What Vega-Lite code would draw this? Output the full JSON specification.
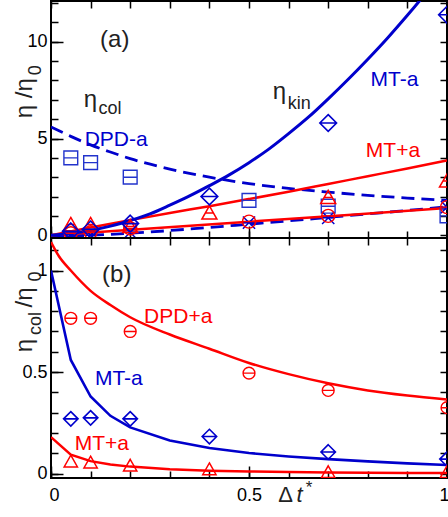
{
 "$schema": "https://vega.github.io/schema/vega-lite/v6.json",
 "padding": {"left": 11, "top": 0, "right": 0, "bottom": 0},
 "spacing": 0,
 "bounds": "flush",
 "config": {
  "font": "Liberation Sans",
  "view": {"stroke": "black", "strokeWidth": 2},
  "axis": {"grid": false, "domain": false, "tickColor": "black", "tickWidth": 1.5, "labelFontSize": 18, "labelColor": "black", "labelFont": "Liberation Sans", "labelOverlap": false, "labelFlush": false, "minExtent": 0}
 },
 "datasets": {
  "lines": [
   {"s":"a_mta_kin","x":0,"y":0},{"s":"a_mta_kin","x":0.05,"y":0.09},{"s":"a_mta_kin","x":0.1,"y":0.25},{"s":"a_mta_kin","x":0.15,"y":0.47},{"s":"a_mta_kin","x":0.2,"y":0.76},{"s":"a_mta_kin","x":0.25,"y":1.1},{"s":"a_mta_kin","x":0.3,"y":1.55},{"s":"a_mta_kin","x":0.35,"y":2.03},{"s":"a_mta_kin","x":0.4,"y":2.56},{"s":"a_mta_kin","x":0.45,"y":3.12},{"s":"a_mta_kin","x":0.5,"y":3.75},{"s":"a_mta_kin","x":0.55,"y":4.45},{"s":"a_mta_kin","x":0.6,"y":5.25},{"s":"a_mta_kin","x":0.65,"y":6.1},{"s":"a_mta_kin","x":0.7,"y":7.05},{"s":"a_mta_kin","x":0.75,"y":8.05},{"s":"a_mta_kin","x":0.8,"y":9.1},{"s":"a_mta_kin","x":0.85,"y":10.2},{"s":"a_mta_kin","x":0.9,"y":11.37},{"s":"a_mta_kin","x":0.95,"y":12.6},{"s":"a_mta_kin","x":1.0,"y":13.9},
   {"s":"a_mtpa_kin","x":0,"y":0},{"s":"a_mtpa_kin","x":0.1,"y":0.4},{"s":"a_mtpa_kin","x":0.2,"y":0.78},{"s":"a_mtpa_kin","x":0.3,"y":1.15},{"s":"a_mtpa_kin","x":0.4,"y":1.5},{"s":"a_mtpa_kin","x":0.5,"y":1.87},{"s":"a_mtpa_kin","x":0.6,"y":2.25},{"s":"a_mtpa_kin","x":0.7,"y":2.65},{"s":"a_mtpa_kin","x":0.8,"y":3.05},{"s":"a_mtpa_kin","x":0.9,"y":3.45},{"s":"a_mtpa_kin","x":1.0,"y":3.87},
   {"s":"a_dpdpa_kin","x":0,"y":0},{"s":"a_dpdpa_kin","x":0.25,"y":0.35},{"s":"a_dpdpa_kin","x":0.5,"y":0.7},{"s":"a_dpdpa_kin","x":0.75,"y":1.05},{"s":"a_dpdpa_kin","x":1.0,"y":1.4},
   {"s":"a_dpda_kin","x":0,"y":-0.08},{"s":"a_dpda_kin","x":0.1,"y":0.0},{"s":"a_dpda_kin","x":0.2,"y":0.1},{"s":"a_dpda_kin","x":0.3,"y":0.24},{"s":"a_dpda_kin","x":0.4,"y":0.4},{"s":"a_dpda_kin","x":0.5,"y":0.57},{"s":"a_dpda_kin","x":0.6,"y":0.74},{"s":"a_dpda_kin","x":0.7,"y":0.92},{"s":"a_dpda_kin","x":0.8,"y":1.1},{"s":"a_dpda_kin","x":0.9,"y":1.28},{"s":"a_dpda_kin","x":1.0,"y":1.47},
   {"s":"a_dpda_col","x":0,"y":5.6},{"s":"a_dpda_col","x":0.05,"y":5.11},{"s":"a_dpda_col","x":0.1,"y":4.67},{"s":"a_dpda_col","x":0.15,"y":4.3},{"s":"a_dpda_col","x":0.2,"y":3.96},{"s":"a_dpda_col","x":0.3,"y":3.42},{"s":"a_dpda_col","x":0.4,"y":3.0},{"s":"a_dpda_col","x":0.5,"y":2.67},{"s":"a_dpda_col","x":0.6,"y":2.42},{"s":"a_dpda_col","x":0.7,"y":2.23},{"s":"a_dpda_col","x":0.8,"y":2.06},{"s":"a_dpda_col","x":0.9,"y":1.92},{"s":"a_dpda_col","x":1.0,"y":1.8},
   {"s":"b_dpdpa","x":0,"y":1.14},{"s":"b_dpdpa","x":0.02,"y":1.07},{"s":"b_dpdpa","x":0.05,"y":1.0},{"s":"b_dpdpa","x":0.1,"y":0.9},{"s":"b_dpdpa","x":0.15,"y":0.83},{"s":"b_dpdpa","x":0.2,"y":0.77},{"s":"b_dpdpa","x":0.3,"y":0.685},{"s":"b_dpdpa","x":0.4,"y":0.615},{"s":"b_dpdpa","x":0.5,"y":0.545},{"s":"b_dpdpa","x":0.6,"y":0.49},{"s":"b_dpdpa","x":0.7,"y":0.445},{"s":"b_dpdpa","x":0.8,"y":0.41},{"s":"b_dpdpa","x":0.9,"y":0.385},{"s":"b_dpdpa","x":1.0,"y":0.365},
   {"s":"b_mta","x":0,"y":1.0},{"s":"b_mta","x":0.05,"y":0.56},{"s":"b_mta","x":0.1,"y":0.38},{"s":"b_mta","x":0.15,"y":0.285},{"s":"b_mta","x":0.2,"y":0.228},{"s":"b_mta","x":0.3,"y":0.163},{"s":"b_mta","x":0.4,"y":0.127},{"s":"b_mta","x":0.5,"y":0.102},{"s":"b_mta","x":0.6,"y":0.085},{"s":"b_mta","x":0.7,"y":0.072},{"s":"b_mta","x":0.8,"y":0.061},{"s":"b_mta","x":0.9,"y":0.051},{"s":"b_mta","x":1.0,"y":0.043},
   {"s":"b_mtpa","x":0,"y":0.18},{"s":"b_mtpa","x":0.05,"y":0.094},{"s":"b_mtpa","x":0.1,"y":0.062},{"s":"b_mtpa","x":0.15,"y":0.045},{"s":"b_mtpa","x":0.2,"y":0.035},{"s":"b_mtpa","x":0.3,"y":0.022},{"s":"b_mtpa","x":0.4,"y":0.015},{"s":"b_mtpa","x":0.5,"y":0.011},{"s":"b_mtpa","x":0.6,"y":0.008},{"s":"b_mtpa","x":0.7,"y":0.006},{"s":"b_mtpa","x":0.8,"y":0.005},{"s":"b_mtpa","x":0.9,"y":0.004},{"s":"b_mtpa","x":1.0,"y":0.003}
  ],
  "pts": [
   {"s":"a_sq","x":0.05,"y":4.0},{"s":"a_sq","x":0.1,"y":3.75},{"s":"a_sq","x":0.2,"y":3.0},{"s":"a_sq","x":0.5,"y":1.8},{"s":"a_sq","x":0.7,"y":1.5},{"s":"a_sq","x":1.0,"y":1.0},
   {"s":"a_dia","x":0.05,"y":0.2},{"s":"a_dia","x":0.1,"y":0.3},{"s":"a_dia","x":0.2,"y":0.6},{"s":"a_dia","x":0.4,"y":2.0},{"s":"a_dia","x":0.7,"y":5.8},{"s":"a_dia","x":1.0,"y":11.4},
   {"s":"a_tri","x":0.05,"y":0.55},{"s":"a_tri","x":0.1,"y":0.55},{"s":"a_tri","x":0.2,"y":0.45},{"s":"a_tri","x":0.4,"y":1.15},{"s":"a_tri","x":0.7,"y":1.95},{"s":"a_tri","x":1.0,"y":2.8},
   {"s":"a_cir","x":0.05,"y":0.1},{"s":"a_cir","x":0.1,"y":0.15},{"s":"a_cir","x":0.2,"y":0.35},{"s":"a_cir","x":0.5,"y":0.7},{"s":"a_cir","x":0.7,"y":1.0},{"s":"a_cir","x":1.0,"y":1.45},
   {"s":"a_x","x":0.05,"y":-0.05},{"s":"a_x","x":0.1,"y":0.0},{"s":"a_x","x":0.2,"y":0.15},{"s":"a_x","x":0.5,"y":0.65},{"s":"a_x","x":0.7,"y":0.9},{"s":"a_x","x":1.0,"y":1.45},
   {"s":"b_cir","x":0.05,"y":0.765},{"s":"b_cir","x":0.1,"y":0.765},{"s":"b_cir","x":0.2,"y":0.7},{"s":"b_cir","x":0.5,"y":0.495},{"s":"b_cir","x":0.7,"y":0.41},{"s":"b_cir","x":1.0,"y":0.325},
   {"s":"b_dia","x":0.05,"y":0.27},{"s":"b_dia","x":0.1,"y":0.275},{"s":"b_dia","x":0.2,"y":0.27},{"s":"b_dia","x":0.4,"y":0.183},{"s":"b_dia","x":0.7,"y":0.107},{"s":"b_dia","x":1.0,"y":0.072},
   {"s":"b_tri","x":0.05,"y":0.06},{"s":"b_tri","x":0.1,"y":0.055},{"s":"b_tri","x":0.2,"y":0.04},{"s":"b_tri","x":0.4,"y":0.022},{"s":"b_tri","x":0.7,"y":0.008},{"s":"b_tri","x":1.0,"y":0.008}
  ],
  "txt": [
   {"p":"a","g":"panel","t":"(a)","x":0.161,"y":10.07},
   {"p":"b","g":"panel","t":"(b)","x":0.166,"y":0.98},
   {"p":"a","g":"eta","t":"η","x":0.083,"y":6.62},
   {"p":"a","g":"sub","t":"col","x":0.12,"y":6.25},
   {"p":"a","g":"eta","t":"η","x":0.56,"y":7.03},
   {"p":"a","g":"sub","t":"kin","x":0.598,"y":6.51},
   {"p":"a","g":"blue","t":"DPD-a","x":0.085,"y":4.61},
   {"p":"a","g":"blue","t":"MT-a","x":0.807,"y":7.7},
   {"p":"a","g":"red","t":"MT+a","x":0.795,"y":4.03},
   {"p":"b","g":"red","t":"DPD+a","x":0.235,"y":0.744},
   {"p":"b","g":"blue","t":"MT-a","x":0.111,"y":0.438},
   {"p":"b","g":"red","t":"MT+a","x":0.06,"y":0.118},
   {"p":"a","g":"ytitle","t":"η /η","x":-0.0487,"y":7.08},
   {"p":"a","g":"ysub","t":"0","x":-0.025,"y":8.53},
   {"p":"b","g":"ytitle","t":"η","x":-0.0487,"y":0.631},
   {"p":"b","g":"ysub","t":"col","x":-0.025,"y":0.739},
   {"p":"b","g":"ytitle","t":"/η","x":-0.0487,"y":0.867},
   {"p":"b","g":"ysub","t":"0","x":-0.025,"y":0.971},
   {"p":"b","g":"xt","t":"Δ","x":0.574,"y":-0.138},
   {"p":"b","g":"xti","t":"t","x":0.62,"y":-0.138},
   {"p":"b","g":"xs","t":"*","x":0.643,"y":-0.095}
  ]
 },
 "vconcat": [
  {
   "width": 396, "height": 237,
   "layer": [
    {"layer": [
     {"data":{"name":"lines"},"transform":[{"filter":"datum.s === 'a_dpda_col'"}],"mark":{"type":"line","color":"#0000cc","strokeWidth":2.8,"strokeDash":[13,7],"clip":true,"interpolate":"monotone"},
      "encoding":{
       "x":{"field":"x","type":"quantitative","title":null,"scale":{"domain":[0,1],"nice":false,"zero":false},
        "axis":{"orient":"bottom","values":[0,0.5,1],"labels":false,"tickSize":-12}},
       "y":{"field":"y","type":"quantitative","title":null,"scale":{"domain":[-0.145,12.11],"nice":false,"zero":false},
        "axis":{"orient":"left","values":[0,5,10],"format":"~g","labelPadding":16,"tickSize":-12}}}},
     {"data":{"name":"lines"},"transform":[{"filter":"datum.s === 'a_dpda_kin'"}],"mark":{"type":"line","color":"#0000cc","strokeWidth":2.8,"strokeDash":[13,7],"clip":true,"interpolate":"monotone"},
      "encoding":{"x":{"field":"x","type":"quantitative","title":null,"scale":{"domain":[0,1],"nice":false,"zero":false}},"y":{"field":"y","type":"quantitative","title":null,"scale":{"domain":[-0.145,12.11],"nice":false,"zero":false}}}},
     {"data":{"name":"lines"},"transform":[{"filter":"datum.s === 'a_dpdpa_kin'"}],"mark":{"type":"line","color":"#ff0000","strokeWidth":2.5,"clip":true},
      "encoding":{"x":{"field":"x","type":"quantitative","title":null,"scale":{"domain":[0,1],"nice":false,"zero":false}},"y":{"field":"y","type":"quantitative","title":null,"scale":{"domain":[-0.145,12.11],"nice":false,"zero":false}}}},
     {"data":{"name":"lines"},"transform":[{"filter":"datum.s === 'a_mtpa_kin'"}],"mark":{"type":"line","color":"#ff0000","strokeWidth":2.5,"clip":true,"interpolate":"monotone"},
      "encoding":{"x":{"field":"x","type":"quantitative","title":null,"scale":{"domain":[0,1],"nice":false,"zero":false}},"y":{"field":"y","type":"quantitative","title":null,"scale":{"domain":[-0.145,12.11],"nice":false,"zero":false}}}},
     {"data":{"name":"lines"},"transform":[{"filter":"datum.s === 'a_mta_kin'"}],"mark":{"type":"line","color":"#0000cc","strokeWidth":3,"clip":true,"interpolate":"monotone"},
      "encoding":{"x":{"field":"x","type":"quantitative","title":null,"scale":{"domain":[0,1],"nice":false,"zero":false}},"y":{"field":"y","type":"quantitative","title":null,"scale":{"domain":[-0.145,12.11],"nice":false,"zero":false}}}},
     {"data":{"name":"pts"},"transform":[{"filter":"datum.s === 'a_sq'"}],"mark":{"type":"point","shape":"M-1,-1H1V1H-1Z M-1,0H1","size":190,"filled":false,"color":"#2233cc","strokeWidth":1.4,"opacity":1,"clip":true},
      "encoding":{"x":{"field":"x","type":"quantitative","title":null,"scale":{"domain":[0,1],"nice":false,"zero":false}},"y":{"field":"y","type":"quantitative","title":null,"scale":{"domain":[-0.145,12.11],"nice":false,"zero":false}}}},
     {"data":{"name":"pts"},"transform":[{"filter":"datum.s === 'a_x'"}],"mark":{"type":"point","shape":"M-1,-1L1,1M-1,1L1,-1M-1,0H1","size":150,"filled":false,"color":"#0000cc","strokeWidth":1.5,"opacity":1,"clip":true},
      "encoding":{"x":{"field":"x","type":"quantitative","title":null,"scale":{"domain":[0,1],"nice":false,"zero":false}},"y":{"field":"y","type":"quantitative","title":null,"scale":{"domain":[-0.145,12.11],"nice":false,"zero":false}}}},
     {"data":{"name":"pts"},"transform":[{"filter":"datum.s === 'a_cir'"}],"mark":{"type":"point","shape":"M1,0A1,1,0,1,1,-1,0A1,1,0,1,1,1,0Z M-1,0H1","size":169,"filled":false,"color":"#ff0000","strokeWidth":1.4,"opacity":1,"clip":true},
      "encoding":{"x":{"field":"x","type":"quantitative","title":null,"scale":{"domain":[0,1],"nice":false,"zero":false}},"y":{"field":"y","type":"quantitative","title":null,"scale":{"domain":[-0.145,12.11],"nice":false,"zero":false}}}},
     {"data":{"name":"pts"},"transform":[{"filter":"datum.s === 'a_tri'"}],"mark":{"type":"point","shape":"M0,-1L1.05,0.85H-1.05Z M-0.55,0H0.55","size":204,"filled":false,"color":"#ff0000","strokeWidth":1.5,"opacity":1,"clip":true},
      "encoding":{"x":{"field":"x","type":"quantitative","title":null,"scale":{"domain":[0,1],"nice":false,"zero":false}},"y":{"field":"y","type":"quantitative","title":null,"scale":{"domain":[-0.145,12.11],"nice":false,"zero":false}}}},
     {"data":{"name":"pts"},"transform":[{"filter":"datum.s === 'a_dia'"}],"mark":{"type":"point","shape":"M0,-1L1,0L0,1L-1,0Z M-1,0H1","size":280,"filled":false,"color":"#0000cc","strokeWidth":1.6,"opacity":1,"clip":true},
      "encoding":{"x":{"field":"x","type":"quantitative","title":null,"scale":{"domain":[0,1],"nice":false,"zero":false}},"y":{"field":"y","type":"quantitative","title":null,"scale":{"domain":[-0.145,12.11],"nice":false,"zero":false}}}},
     {"data":{"name":"txt"},"transform":[{"filter":"datum.p === 'a' && datum.g === 'panel'"}],"mark":{"type":"text","color":"#222222","fontSize":24,"align":"center","baseline":"middle"},
      "encoding":{"x":{"field":"x","type":"quantitative","title":null,"scale":{"domain":[0,1],"nice":false,"zero":false}},"y":{"field":"y","type":"quantitative","title":null,"scale":{"domain":[-0.145,12.11],"nice":false,"zero":false}},"text":{"field":"t"}}},
     {"data":{"name":"txt"},"transform":[{"filter":"datum.p === 'a' && datum.g === 'eta'"}],"mark":{"type":"text","color":"#222222","fontSize":24,"align":"left","baseline":"alphabetic"},
      "encoding":{"x":{"field":"x","type":"quantitative","title":null,"scale":{"domain":[0,1],"nice":false,"zero":false}},"y":{"field":"y","type":"quantitative","title":null,"scale":{"domain":[-0.145,12.11],"nice":false,"zero":false}},"text":{"field":"t"}}},
     {"data":{"name":"txt"},"transform":[{"filter":"datum.p === 'a' && datum.g === 'sub'"}],"mark":{"type":"text","color":"#222222","fontSize":18,"align":"left","baseline":"alphabetic"},
      "encoding":{"x":{"field":"x","type":"quantitative","title":null,"scale":{"domain":[0,1],"nice":false,"zero":false}},"y":{"field":"y","type":"quantitative","title":null,"scale":{"domain":[-0.145,12.11],"nice":false,"zero":false}},"text":{"field":"t"}}},
     {"data":{"name":"txt"},"transform":[{"filter":"datum.p === 'a' && datum.g === 'blue'"}],"mark":{"type":"text","color":"#0000cc","fontSize":21,"align":"left","baseline":"alphabetic"},
      "encoding":{"x":{"field":"x","type":"quantitative","title":null,"scale":{"domain":[0,1],"nice":false,"zero":false}},"y":{"field":"y","type":"quantitative","title":null,"scale":{"domain":[-0.145,12.11],"nice":false,"zero":false}},"text":{"field":"t"}}},
     {"data":{"name":"txt"},"transform":[{"filter":"datum.p === 'a' && datum.g === 'red'"}],"mark":{"type":"text","color":"#ff0000","fontSize":21,"align":"left","baseline":"alphabetic"},
      "encoding":{"x":{"field":"x","type":"quantitative","title":null,"scale":{"domain":[0,1],"nice":false,"zero":false}},"y":{"field":"y","type":"quantitative","title":null,"scale":{"domain":[-0.145,12.11],"nice":false,"zero":false}},"text":{"field":"t"}}},
     {"data":{"name":"txt"},"transform":[{"filter":"datum.p === 'a' && datum.g === 'ytitle'"}],"mark":{"type":"text","color":"#222222","fontSize":24,"align":"center","baseline":"alphabetic","angle":270},
      "encoding":{"x":{"field":"x","type":"quantitative","title":null,"scale":{"domain":[0,1],"nice":false,"zero":false}},"y":{"field":"y","type":"quantitative","title":null,"scale":{"domain":[-0.145,12.11],"nice":false,"zero":false}},"text":{"field":"t"}}},
     {"data":{"name":"txt"},"transform":[{"filter":"datum.p === 'a' && datum.g === 'ysub'"}],"mark":{"type":"text","color":"#222222","fontSize":18,"align":"center","baseline":"alphabetic","angle":270},
      "encoding":{"x":{"field":"x","type":"quantitative","title":null,"scale":{"domain":[0,1],"nice":false,"zero":false}},"y":{"field":"y","type":"quantitative","title":null,"scale":{"domain":[-0.145,12.11],"nice":false,"zero":false}},"text":{"field":"t"}}}
    ]},
    {"data":{"name":"pts"},"transform":[{"filter":"datum.s === 'a_dia'"}],"mark":{"type":"point","opacity":0,"clip":true},
     "encoding":{
      "x":{"field":"x","type":"quantitative","title":null,"scale":{"domain":[0,1],"nice":false,"zero":false},
       "axis":{"orient":"top","values":[0,0.1,0.2,0.3,0.4,0.5,0.6,0.7,0.8,0.9,1],"labels":false,"ticks":false,"grid":true,"gridColor":"black","gridWidth":1.5,"gridOpacity":1,"gridDash":[7,223,7]}},
      "y":{"field":"y","type":"quantitative","title":null,"scale":{"domain":[-0.145,12.11],"nice":false,"zero":false},
       "axis":{"orient":"right","values":[0,1,2,3,4,5,6,7,8,9,10,11,12],"labels":false,"ticks":false,"grid":true,"gridColor":"black","gridWidth":1.5,"gridOpacity":1,"gridDash":[7,382,7]}}}}
   ],
   "resolve": {"axis": {"x": "independent", "y": "independent"}}
  },
  {
   "width": 396, "height": 240,
   "layer": [
    {"layer": [
     {"data":{"name":"lines"},"transform":[{"filter":"datum.s === 'b_dpdpa'"}],"mark":{"type":"line","color":"#ff0000","strokeWidth":2.5,"clip":true,"interpolate":"monotone"},
      "encoding":{
       "x":{"field":"x","type":"quantitative","title":null,"scale":{"domain":[0,1],"nice":false,"zero":false},
        "axis":{"orient":"bottom","values":[0,0.5,1],"format":"~g","labelPadding":20,"tickSize":-12,"labelFlush":true,"labelFlushOffset":2}},
       "y":{"field":"y","type":"quantitative","title":null,"scale":{"domain":[-0.021,1.16],"nice":false,"zero":false},
        "axis":{"orient":"left","values":[0,0.5,1],"format":"~g","labelPadding":16,"tickSize":-12}}}},
     {"data":{"name":"lines"},"transform":[{"filter":"datum.s === 'b_mta'"}],"mark":{"type":"line","color":"#0000cc","strokeWidth":2.6,"clip":true},
      "encoding":{"x":{"field":"x","type":"quantitative","title":null,"scale":{"domain":[0,1],"nice":false,"zero":false}},"y":{"field":"y","type":"quantitative","title":null,"scale":{"domain":[-0.021,1.16],"nice":false,"zero":false}}}},
     {"data":{"name":"lines"},"transform":[{"filter":"datum.s === 'b_mtpa'"}],"mark":{"type":"line","color":"#ff0000","strokeWidth":2.5,"clip":true},
      "encoding":{"x":{"field":"x","type":"quantitative","title":null,"scale":{"domain":[0,1],"nice":false,"zero":false}},"y":{"field":"y","type":"quantitative","title":null,"scale":{"domain":[-0.021,1.16],"nice":false,"zero":false}}}},
     {"data":{"name":"pts"},"transform":[{"filter":"datum.s === 'b_cir'"}],"mark":{"type":"point","shape":"M1,0A1,1,0,1,1,-1,0A1,1,0,1,1,1,0Z M-1,0H1","size":140,"filled":false,"color":"#ff0000","strokeWidth":1.4,"opacity":1,"clip":true},
      "encoding":{"x":{"field":"x","type":"quantitative","title":null,"scale":{"domain":[0,1],"nice":false,"zero":false}},"y":{"field":"y","type":"quantitative","title":null,"scale":{"domain":[-0.021,1.16],"nice":false,"zero":false}}}},
     {"data":{"name":"pts"},"transform":[{"filter":"datum.s === 'b_dia'"}],"mark":{"type":"point","shape":"M0,-1L1,0L0,1L-1,0Z M-1,0H1","size":210,"filled":false,"color":"#0000cc","strokeWidth":1.6,"opacity":1,"clip":true},
      "encoding":{"x":{"field":"x","type":"quantitative","title":null,"scale":{"domain":[0,1],"nice":false,"zero":false}},"y":{"field":"y","type":"quantitative","title":null,"scale":{"domain":[-0.021,1.16],"nice":false,"zero":false}}}},
     {"data":{"name":"pts"},"transform":[{"filter":"datum.s === 'b_tri'"}],"mark":{"type":"point","shape":"M0,-1L1.05,0.85H-1.05Z","size":160,"filled":false,"color":"#ff0000","strokeWidth":1.5,"opacity":1,"clip":true},
      "encoding":{"x":{"field":"x","type":"quantitative","title":null,"scale":{"domain":[0,1],"nice":false,"zero":false}},"y":{"field":"y","type":"quantitative","title":null,"scale":{"domain":[-0.021,1.16],"nice":false,"zero":false}}}},
     {"data":{"name":"txt"},"transform":[{"filter":"datum.p === 'b' && datum.g === 'panel'"}],"mark":{"type":"text","color":"#222222","fontSize":24,"align":"center","baseline":"middle"},
      "encoding":{"x":{"field":"x","type":"quantitative","title":null,"scale":{"domain":[0,1],"nice":false,"zero":false}},"y":{"field":"y","type":"quantitative","title":null,"scale":{"domain":[-0.021,1.16],"nice":false,"zero":false}},"text":{"field":"t"}}},
     {"data":{"name":"txt"},"transform":[{"filter":"datum.p === 'b' && datum.g === 'blue'"}],"mark":{"type":"text","color":"#0000cc","fontSize":21,"align":"left","baseline":"alphabetic"},
      "encoding":{"x":{"field":"x","type":"quantitative","title":null,"scale":{"domain":[0,1],"nice":false,"zero":false}},"y":{"field":"y","type":"quantitative","title":null,"scale":{"domain":[-0.021,1.16],"nice":false,"zero":false}},"text":{"field":"t"}}},
     {"data":{"name":"txt"},"transform":[{"filter":"datum.p === 'b' && datum.g === 'red'"}],"mark":{"type":"text","color":"#ff0000","fontSize":21,"align":"left","baseline":"alphabetic"},
      "encoding":{"x":{"field":"x","type":"quantitative","title":null,"scale":{"domain":[0,1],"nice":false,"zero":false}},"y":{"field":"y","type":"quantitative","title":null,"scale":{"domain":[-0.021,1.16],"nice":false,"zero":false}},"text":{"field":"t"}}},
     {"data":{"name":"txt"},"transform":[{"filter":"datum.p === 'b' && datum.g === 'ytitle'"}],"mark":{"type":"text","color":"#222222","fontSize":24,"align":"center","baseline":"alphabetic","angle":270},
      "encoding":{"x":{"field":"x","type":"quantitative","title":null,"scale":{"domain":[0,1],"nice":false,"zero":false}},"y":{"field":"y","type":"quantitative","title":null,"scale":{"domain":[-0.021,1.16],"nice":false,"zero":false}},"text":{"field":"t"}}},
     {"data":{"name":"txt"},"transform":[{"filter":"datum.p === 'b' && datum.g === 'ysub'"}],"mark":{"type":"text","color":"#222222","fontSize":18,"align":"center","baseline":"alphabetic","angle":270},
      "encoding":{"x":{"field":"x","type":"quantitative","title":null,"scale":{"domain":[0,1],"nice":false,"zero":false}},"y":{"field":"y","type":"quantitative","title":null,"scale":{"domain":[-0.021,1.16],"nice":false,"zero":false}},"text":{"field":"t"}}},
     {"data":{"name":"txt"},"transform":[{"filter":"datum.p === 'b' && datum.g === 'xt'"}],"mark":{"type":"text","color":"#222222","fontSize":22,"align":"left","baseline":"alphabetic"},
      "encoding":{"x":{"field":"x","type":"quantitative","title":null,"scale":{"domain":[0,1],"nice":false,"zero":false}},"y":{"field":"y","type":"quantitative","title":null,"scale":{"domain":[-0.021,1.16],"nice":false,"zero":false}},"text":{"field":"t"}}},
     {"data":{"name":"txt"},"transform":[{"filter":"datum.p === 'b' && datum.g === 'xti'"}],"mark":{"type":"text","color":"#222222","fontSize":22,"fontStyle":"italic","align":"left","baseline":"alphabetic"},
      "encoding":{"x":{"field":"x","type":"quantitative","title":null,"scale":{"domain":[0,1],"nice":false,"zero":false}},"y":{"field":"y","type":"quantitative","title":null,"scale":{"domain":[-0.021,1.16],"nice":false,"zero":false}},"text":{"field":"t"}}},
     {"data":{"name":"txt"},"transform":[{"filter":"datum.p === 'b' && datum.g === 'xs'"}],"mark":{"type":"text","color":"#222222","fontSize":17,"align":"left","baseline":"alphabetic"},
      "encoding":{"x":{"field":"x","type":"quantitative","title":null,"scale":{"domain":[0,1],"nice":false,"zero":false}},"y":{"field":"y","type":"quantitative","title":null,"scale":{"domain":[-0.021,1.16],"nice":false,"zero":false}},"text":{"field":"t"}}}
    ]},
    {"data":{"name":"pts"},"transform":[{"filter":"datum.s === 'b_dia'"}],"mark":{"type":"point","opacity":0,"clip":true},
     "encoding":{
      "x":{"field":"x","type":"quantitative","title":null,"scale":{"domain":[0,1],"nice":false,"zero":false},
       "axis":{"orient":"top","values":[0,0.1,0.2,0.3,0.4,0.5,0.6,0.7,0.8,0.9,1],"labels":false,"ticks":false,"grid":true,"gridColor":"black","gridWidth":1.5,"gridOpacity":1,"gridDash":[7,226,7]}},
      "y":{"field":"y","type":"quantitative","title":null,"scale":{"domain":[-0.021,1.16],"nice":false,"zero":false},
       "axis":{"orient":"right","values":[0,0.1,0.2,0.3,0.4,0.5,0.6,0.7,0.8,0.9,1,1.1],"labels":false,"ticks":false,"grid":true,"gridColor":"black","gridWidth":1.5,"gridOpacity":1,"gridDash":[7,382,7]}}}}
   ],
   "resolve": {"axis": {"x": "independent", "y": "independent"}}
  }
 ]
}
